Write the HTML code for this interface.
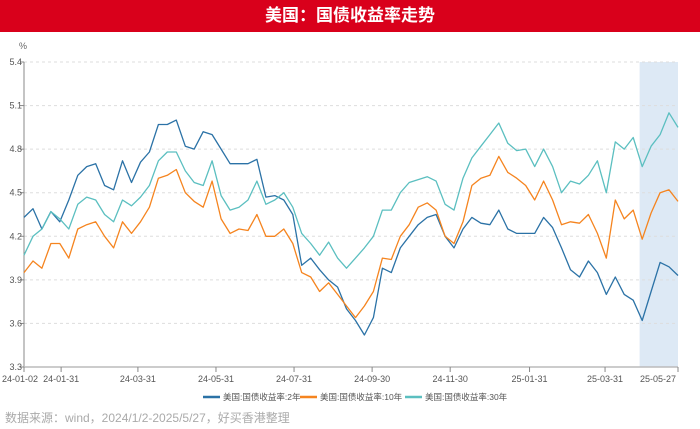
<!DOCTYPE html>
<html><head><meta charset="utf-8"><style>
body{margin:0;width:700px;height:429px;background:#fff;font-family:"Liberation Sans","Noto Sans CJK SC",sans-serif;overflow:hidden}
.hdr{position:absolute;left:0;top:0;width:700px;height:32px;background:#d9001b;color:#fff;font-weight:bold;font-size:17px;text-align:center;line-height:32px}
svg{position:absolute;left:0;top:0}
.src{position:absolute;left:5px;top:409px;font-size:12px;color:#aaa}
</style></head><body>
<div class="hdr">美国：国债收益率走势</div>
<svg id="c" width="700" height="429"></svg>
<div class="src">数据来源：wind，2024/1/2-2025/5/27，好买香港整理</div>
<script>
const yTicks=[3.3,3.6,3.9,4.2,4.5,4.8,5.1,5.4];
const xTickLabels=["24-01-02","24-01-31","24-03-31","24-05-31","24-07-31","24-09-30","24-11-30","25-01-31","25-03-31","25-05-27"];
const startDate="2024-01-02";
const seriesNames=["美国:国债收益率:2年","美国:国债收益率:10年","美国:国债收益率:30年"];
const y2=[4.33,4.39,4.25,4.37,4.30,4.45,4.62,4.68,4.70,4.55,4.52,4.72,4.57,4.71,4.78,4.97,4.97,5.0,4.82,4.80,4.92,4.90,4.80,4.70,4.70,4.70,4.73,4.47,4.48,4.45,4.35,4.0,4.05,3.97,3.90,3.85,3.70,3.62,3.52,3.64,3.98,3.95,4.12,4.2,4.28,4.33,4.35,4.20,4.12,4.25,4.33,4.29,4.28,4.38,4.25,4.22,4.22,4.22,4.33,4.26,4.12,3.97,3.92,4.03,3.95,3.80,3.92,3.80,3.76,3.62,3.82,4.02,3.99,3.93];
const y10=[3.95,4.03,3.98,4.15,4.15,4.05,4.25,4.28,4.30,4.2,4.12,4.30,4.22,4.30,4.40,4.60,4.62,4.66,4.50,4.44,4.40,4.58,4.32,4.22,4.25,4.24,4.35,4.20,4.20,4.25,4.15,3.95,3.92,3.82,3.88,3.80,3.72,3.64,3.72,3.82,4.05,4.04,4.20,4.28,4.40,4.43,4.38,4.20,4.15,4.30,4.55,4.60,4.62,4.75,4.64,4.60,4.55,4.45,4.58,4.45,4.28,4.30,4.29,4.35,4.22,4.05,4.45,4.32,4.38,4.18,4.36,4.50,4.52,4.44];
const y30=[4.07,4.20,4.25,4.37,4.32,4.25,4.42,4.47,4.45,4.35,4.30,4.45,4.41,4.47,4.55,4.72,4.78,4.78,4.65,4.57,4.55,4.72,4.48,4.38,4.40,4.45,4.58,4.42,4.45,4.50,4.40,4.22,4.15,4.07,4.16,4.05,3.98,4.05,4.12,4.20,4.38,4.38,4.50,4.57,4.59,4.61,4.58,4.42,4.38,4.60,4.74,4.82,4.90,4.98,4.84,4.79,4.80,4.68,4.80,4.68,4.50,4.58,4.56,4.62,4.72,4.50,4.85,4.80,4.88,4.68,4.82,4.90,5.05,4.95];
const shadeFrom="2025-04-27";
const svg=document.getElementById('c');const NS="http://www.w3.org/2000/svg";
const X0=24,X1=678,Y0=367,Y1=62,VMIN=3.3,VMAX=5.4;
const t0=Date.parse(startDate),tEnd=Date.parse("2025-05-27");
function dayOf(s){const p=s.split('-');return Date.parse("20"+p[0]+"-"+p[1]+"-"+p[2]);}
function xs(t){return X0+(t-t0)/(tEnd-t0)*(X1-X0);}
function ys(v){return Y0-(v-VMIN)/(VMAX-VMIN)*(Y0-Y1);}
function mk(tag,a){const e=document.createElementNS(NS,tag);for(const k in a)e.setAttribute(k,a[k]);svg.appendChild(e);return e;}
let r=mk('rect',{x:xs(Date.parse(shadeFrom)),y:Y1,width:X1-xs(Date.parse(shadeFrom)),height:Y0-Y1,fill:'#dde9f5'});


yTicks.forEach(v=>{const y=ys(v);
 if(v>VMIN){const g=mk('line',{x1:X0,x2:X1,y1:y,y2:y,stroke:'#ddd','stroke-dasharray':'3,3'});}
 mk('line',{x1:X0-4,x2:X0,y1:y,y2:y,stroke:'#888'});
 const t=mk('text',{x:X0-2,y:y+3,'font-size':9,fill:'#555','text-anchor':'end'});t.textContent=v.toFixed(1);
 
 });
let u=mk('text',{x:19,y:49,'font-size':9,fill:'#666'});u.textContent='%';


mk('line',{x1:X0,x2:X0,y1:Y1,y2:Y0,stroke:'#888'});
mk('line',{x1:X0,x2:X1,y1:Y0,y2:Y0,stroke:'#bbb','stroke-width':1.5});
xTickLabels.forEach((s,i)=>{const x=xs(dayOf(s));mk('line',{x1:x,x2:x,y1:Y0,y2:Y0+5,stroke:'#888'});
 const t=mk('text',{x:i==0?x-22:i==xTickLabels.length-1?x-20:x,y:Y0+15,'font-size':9,fill:'#555','text-anchor':i==0?'start':'middle'});t.textContent=s;
 if(i==0)t.setAttribute('x',2);
 
 });
const colors=['#2b72a6','#f5841f','#5bbfc0'];
[y2,y10,y30].forEach((arr,k)=>{const d=arr.map((v,i)=>(i?'L':'M')+xs(t0+i*7*864e5).toFixed(1)+','+ys(v).toFixed(1)).join('');
 const p=mk('path',{d:d,fill:'none',stroke:colors[k],'stroke-width':1.3,'stroke-linejoin':'round'});
 
 });
const lx=[203,300,405];
seriesNames.forEach((n,k)=>{mk('line',{x1:lx[k],x2:lx[k]+17,y1:397,y2:397,stroke:colors[k],'stroke-width':2.5});
 const t=mk('text',{x:lx[k]+20,y:400,'font-size':8.5,fill:'#555'});t.textContent=n;
 
 });
</script>
</body></html>
